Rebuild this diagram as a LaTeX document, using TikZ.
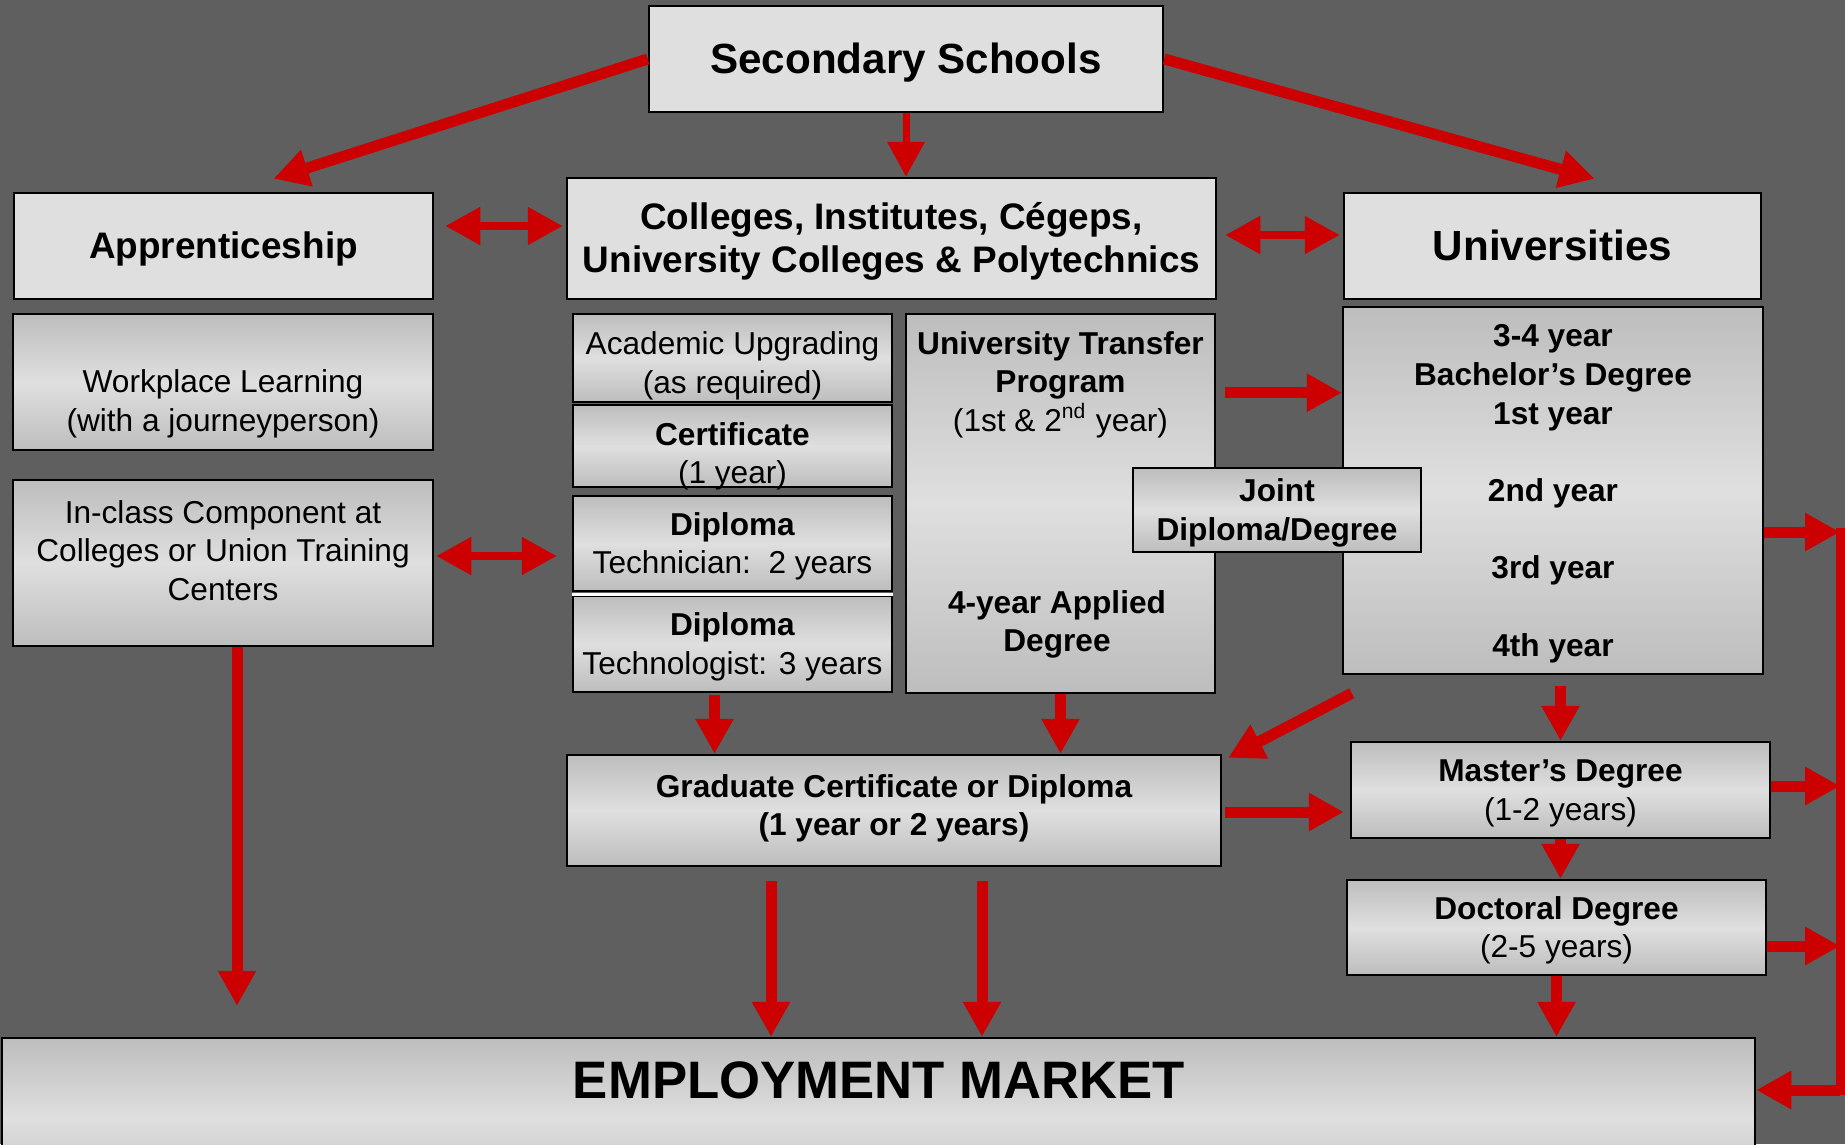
\documentclass[tikz,border=0pt]{standalone}
\usepackage{fontspec}
\setmainfont{Liberation Sans}
\usetikzlibrary{arrows.meta,calc}
\definecolor{bggray}{HTML}{5F5F5F}
\definecolor{boxlight}{HTML}{DFDFDF}
\definecolor{boxdark}{HTML}{BDBDBD}
\definecolor{arrred}{HTML}{CC0000}
\newcommand{\pst}{\rule[-0.212em]{0pt}{1.117em}}
\newcommand{\bxt}[1]{\pst#1\pst}
\begin{document}
\begin{tikzpicture}[x=0.1mm,y=-0.1mm,
  flatbox/.style={align=center,draw=black,line width=0.25mm,fill=boxlight,inner sep=0.5mm},
  shadebox/.style={align=center,draw=black,line width=0.25mm,top color=boxdark,bottom color=boxdark,middle color=boxlight,inner sep=0.5mm},
  bigtext/.style={font=\fontsize{12}{14}\selectfont\bfseries},
  headtext/.style={font=\fontsize{10.5}{12.2}\selectfont\bfseries},
  plaintext/.style={font=\fontsize{9}{11}\selectfont},
  boldtext/.style={font=\fontsize{9}{11}\selectfont\bfseries},
  arr/.style={draw=arrred,line width=1.1mm,-{Triangle[length=3.5mm,width=3.6mm]}},
  dblarr/.style={draw=arrred,line width=0.8mm,{Triangle[length=3.5mm,width=3.6mm]}-{Triangle[length=3.5mm,width=3.6mm]}}]
\useasboundingbox (0,0) rectangle (1845,1144);
\clip (0,0) rectangle (1845,1144);
\fill[bggray] (0,0) rectangle (1845,1144);
\node[flatbox,bigtext,minimum width=51.4mm,minimum height=10.6mm] (sec) at (906,59) {\bxt{Secondary Schools}};
\node[flatbox,headtext,minimum width=41.9mm,minimum height=10.6mm] (appr) at (223.5,246) {\bxt{Apprenticeship}};
\node[flatbox,headtext,minimum width=64.9mm,minimum height=12.1mm] (coll) at (891.5,238.5) {\bxt{Colleges, Institutes, Cégeps,\\University Colleges \& Polytechnics}};
\node[flatbox,bigtext,minimum width=41.7mm,minimum height=10.6mm] (univ) at (1552.5,246) {\bxt{Universities}};
\node[shadebox,plaintext,minimum width=42mm,minimum height=13.6mm] (work) at (223,382) {\bxt{~\\Workplace Learning\\(with a journeyperson)}};
\node[shadebox,plaintext,minimum width=42mm,minimum height=16.6mm] (incl) at (223,563) {\bxt{In-class Component at\\Colleges or Union Training\\Centers\\[-4pt]~}};
\node[shadebox,plaintext,inner ysep=0pt,minimum width=31.9mm,minimum height=8.8mm] (acad) at (732.5,358) {\bxt{\rule{0pt}{11pt}Academic Upgrading\\(as required)}};
\node[shadebox,minimum width=31.9mm,minimum height=8.2mm] (cert) at (732.5,446) {};
\node[align=center,plaintext] (certtext) at (732.5,453.5) {\bxt{\textbf{Certificate}\\(1 year)}};
\node[shadebox,plaintext,minimum width=31.9mm,minimum height=9.5mm] (dtech) at (732.5,543.5) {\bxt{\textbf{Diploma}\\Technician:~~2 years}};
\node[shadebox,plaintext,minimum width=31.9mm,minimum height=9.6mm] (dtlg) at (732.5,644) {\bxt{\textbf{Diploma}\\Technologist: 3 years}};
\draw[white,line width=0.3mm] ($(dtech.south west)+(0,2)$) -- ($(dtech.south east)+(0,2)$);
\node[shadebox,minimum width=30.9mm,minimum height=37.9mm] (utp) at (1060.5,503.5) {};
\node[align=center,plaintext] (utptop) at (1060.5,382) {\bxt{\textbf{University Transfer}\\\textbf{Program}\\(1st \& 2\textsuperscript{nd} year)}};
\node[align=center,boldtext] (utpbot) at (1057,621.5) {\bxt{4-year Applied\\Degree}};
\node[shadebox,boldtext,minimum width=42mm,minimum height=36.7mm] (bach) at (1553,490.5) {\bxt{3-4 year\\Bachelor’s Degree\\1st year\\~\\2nd year\\~\\3rd year\\~\\4th year}};
\node[shadebox,boldtext,minimum width=28.8mm,minimum height=8mm] (joint) at (1277,510) {\bxt{Joint\\Diploma/Degree}};
\node[shadebox,boldtext,minimum width=65.4mm,minimum height=11.1mm] (grad) at (894,810.5) {\bxt{Graduate Certificate or Diploma\\(1 year or 2 years)\rule[-4.75pt]{0pt}{1pt}}};
\node[shadebox,plaintext,minimum width=41.9mm,minimum height=9.6mm] (mast) at (1560.5,790) {\bxt{\textbf{Master’s Degree}\\(1-2 years)}};
\node[shadebox,plaintext,minimum width=41.9mm,minimum height=9.5mm] (doct) at (1556.5,927.5) {\bxt{\textbf{Doctoral Degree}\\(2-5 years)}};
\node[shadebox,minimum width=175.3mm,minimum height=16.2mm] (emp) at (878.5,1119) {};
\node[font=\fontsize{15}{18}\selectfont\bfseries] (emptext) at (879,1080) {EMPLOYMENT MARKET};
\draw[arr] (sec.west) -- ($(appr.north)+(50,-13)$);
\draw[arr,line width=0.7mm] (sec.south) -- (sec.south |- coll.north);
\draw[arr] (sec.east) -- ($(univ.north)+(42,-13)$);
\draw[dblarr] ($(appr.east)+(11,-20)$) -- ($(coll.west)+(-3,-12.5)$);
\draw[dblarr] ($(coll.east)+(8,-3.5)$) -- ($(univ.west)+(-3,-11)$);
\draw[arr] ($(utp.north east)+(9,80)$) coordinate (t1) -- (t1 -| bach.west);
\draw[dblarr] ($(incl.east)+(2,-7)$) coordinate (d1) -- ($(d1 -| dtech.west)+(-15,0)$);
\draw[arr] ($(dtlg.south)+(-18,2)$) coordinate (g1) -- (g1 |- grad.north);
\draw[arr] (utp.south) -- (utp.south |- grad.north);
\draw[arr] ($(bach.south west)+(10,18)$) -- ($(grad.north east)+(6,4)$);
\draw[arr] ($(bach.south -| mast.north)+(0,11)$) -- (mast.north);
\draw[arr] ($(grad.east)+(3,1.5)$) coordinate (q1) -- ($(q1 -| mast.west)+(-6,0)$);
\draw[arr] (mast.south) -- (mast.south |- doct.north);
\draw[arr] (doct.south) -- (doct.south |- emp.north);
\draw[arr] ($(grad.south)+(-123,14)$) coordinate (e1) -- (e1 |- emp.north);
\draw[arr] ($(grad.south)+(88,14)$) coordinate (e2) -- (e2 |- emp.north);
\draw[arr] ($(incl.south)+(14,0)$) coordinate (e0) -- ($(e0 |- emp.north)+(0,-31)$);
\coordinate (r1) at (1840,532);
\coordinate (r2) at (1840,786);
\coordinate (r3) at (1840,946);
\coordinate (r4) at (1840,1090);
\draw[draw=arrred,line width=0.9mm,line cap=rect] (r1) -- (r4);
\draw[arr] (bach.east |- r1) -- (r1);
\draw[arr] (mast.east |- r2) -- (r2);
\draw[arr] (doct.east |- r3) -- (r3);
\draw[arr] (r4) -- (r4 -| emp.east);
\end{tikzpicture}
\end{document}
